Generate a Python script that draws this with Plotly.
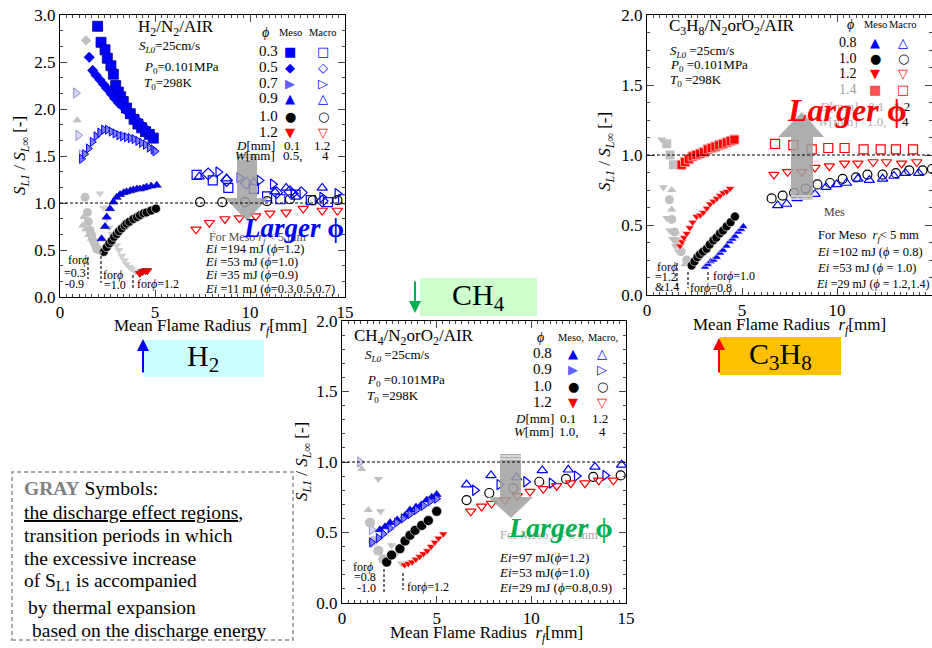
import plotly.graph_objects as go

SERIF = "Liberation Serif"
SANS = "DejaVu Sans"
W, H = 932, 648

# ================= H2 panel data =================
h2_meso_03_r = [1.98, 2.16, 2.37, 2.49, 2.68, 2.81, 2.93, 3.07, 3.19, 3.33, 3.5, 3.7, 3.9, 4.1, 4.3, 4.5, 4.7, 4.91]
h2_meso_03_s = [2.88, 2.71, 2.63, 2.54, 2.46, 2.37, 2.25, 2.18, 2.13, 2.08, 2.01, 1.95, 1.89, 1.84, 1.80, 1.76, 1.73, 1.69]
h2_meso_05_r = [1.54, 1.72, 1.9, 2.1, 2.3, 2.46, 2.7, 2.89, 3.1, 3.33, 3.55, 3.77, 4.0, 4.21, 4.45, 4.65, 4.85]
h2_meso_05_s = [2.55, 2.41, 2.36, 2.31, 2.26, 2.22, 2.16, 2.11, 2.06, 2.02, 1.97, 1.93, 1.89, 1.85, 1.80, 1.76, 1.72]
h2_meso_07_r = [1.14, 1.3, 1.5, 1.7, 1.9, 2.1, 2.3, 2.5, 2.7, 2.9, 3.1, 3.3, 3.5, 3.7, 3.9, 4.1, 4.3, 4.5, 4.7, 4.9, 5.0]
h2_meso_07_s = [1.47, 1.52, 1.58, 1.65, 1.71, 1.75, 1.78, 1.78, 1.76, 1.74, 1.72, 1.71, 1.70, 1.69, 1.68, 1.66, 1.64, 1.62, 1.59, 1.57, 1.55]
h2_meso_09_r = [2.19, 2.37, 2.46, 2.63, 2.81, 2.98, 3.16, 3.35, 3.5, 3.7, 3.86, 4.05, 4.21, 4.4, 4.56, 4.8, 5.09]
h2_meso_09_s = [0.62, 0.75, 0.85, 0.94, 1.01, 1.06, 1.09, 1.11, 1.12, 1.13, 1.14, 1.15, 1.15, 1.16, 1.17, 1.18, 1.19]
h2_meso_10_r = [2.3, 2.46, 2.6, 2.72, 2.85, 2.98, 3.1, 3.25, 3.4, 3.5, 3.65, 3.86, 4.05, 4.21, 4.4, 4.56, 4.8, 5.05]
h2_meso_10_s = [0.48, 0.53, 0.57, 0.60, 0.64, 0.67, 0.70, 0.73, 0.76, 0.78, 0.80, 0.83, 0.85, 0.87, 0.89, 0.90, 0.92, 0.94]
h2_meso_12_r = [4.2, 4.35, 4.5, 4.6]
h2_meso_12_s = [0.25, 0.27, 0.28, 0.28]

h2_gray_circ_r = [1.32, 1.44, 1.49, 1.58, 1.66, 1.75, 1.84, 1.93, 2.07]
h2_gray_circ_s = [1.06, 0.90, 0.80, 0.71, 0.66, 0.60, 0.56, 0.51, 0.50]
h2_gray_tup_r = [0.91, 1.19, 1.25, 1.35, 1.5, 1.65]
h2_gray_tup_s = [1.88, 0.76, 0.85, 0.72, 0.66, 0.62]
h2_gray_tdn_r = [1.75, 2.1, 2.3, 2.46, 2.6, 2.72, 2.85, 2.98, 3.1, 3.25, 3.4, 3.5, 3.65, 3.77, 3.95]
h2_gray_tdn_s = [2.36, 1.10, 0.95, 0.83, 0.74, 0.67, 0.61, 0.55, 0.50, 0.44, 0.39, 0.35, 0.32, 0.30, 0.27]
h2_gray_diam_r = [1.37]
h2_gray_diam_s = [2.73]
h2_gray_tri_r = [0.84, 0.96, 1.14]
h2_gray_tri_s = [2.17, 1.72, 1.51]

h2_macro_03_r = [7.19, 8.04, 8.86, 10.2, 10.9, 11.6, 12.4, 13.2, 14.1, 14.9]
h2_macro_03_s = [1.30, 1.24, 1.16, 1.15, 1.07, 1.04, 1.09, 1.03, 1.01, 1.04]
h2_macro_05_r = [7.8, 8.77, 9.8, 11.4, 12.1, 12.7, 13.8]
h2_macro_05_s = [1.31, 1.24, 1.21, 1.11, 1.12, 1.11, 1.02]
h2_macro_07_r = [8.33, 9.44, 10.5, 11.2, 12.3, 13.8, 14.6]
h2_macro_07_s = [1.33, 1.27, 1.24, 1.20, 1.10, 1.06, 1.10]
h2_macro_09_r = [7.33, 8.77, 10.2, 11.3, 11.9, 13.8]
h2_macro_09_s = [1.28, 1.26, 1.22, 1.12, 1.16, 1.16]
h2_macro_10_r = [7.37, 8.54, 9.74, 10.9, 12.1, 13.3, 14.6]
h2_macro_10_s = [1.01, 1.01, 1.01, 1.02, 1.04, 1.03, 1.03]
h2_macro_12_r = [7.16, 7.86, 8.68, 9.44, 10.3, 11.05, 11.9, 12.8, 13.8, 14.6]
h2_macro_12_s = [0.72, 0.79, 0.83, 0.84, 0.86, 0.89, 0.90, 0.94, 0.92, 0.92]

# ================= C3H8 panel data =================
c3_meso_14_r = [1.82, 2.0, 2.2, 2.4, 2.6, 2.8, 3.0, 3.2, 3.4, 3.6, 3.8, 4.0, 4.2, 4.4, 4.6]
c3_meso_14_s = [0.93, 0.95, 0.97, 0.99, 1.0, 1.01, 1.02, 1.04, 1.05, 1.06, 1.07, 1.08, 1.09, 1.10, 1.11]
c3_meso_12_r = [1.74, 1.85, 1.95, 2.09, 2.25, 2.4, 2.61, 2.8, 2.96, 3.15, 3.32, 3.5, 3.67, 3.85, 4.02, 4.2, 4.37]
c3_meso_12_s = [0.35, 0.38, 0.41, 0.44, 0.48, 0.52, 0.56, 0.57, 0.59, 0.62, 0.65, 0.67, 0.69, 0.71, 0.73, 0.74, 0.76]
c3_meso_10_r = [2.35, 2.5, 2.65, 2.79, 2.95, 3.14, 3.3, 3.49, 3.65, 3.84, 4.0, 4.19, 4.4, 4.63]
c3_meso_10_s = [0.21, 0.24, 0.27, 0.29, 0.31, 0.33, 0.36, 0.39, 0.41, 0.44, 0.46, 0.49, 0.52, 0.56]
c3_meso_08_r = [3.05, 3.2, 3.35, 3.5, 3.67, 3.85, 4.0, 4.19, 4.35, 4.5, 4.63, 4.8, 4.95, 5.07]
c3_meso_08_s = [0.20, 0.22, 0.24, 0.25, 0.27, 0.30, 0.32, 0.35, 0.38, 0.40, 0.42, 0.45, 0.47, 0.49]

c3_gray_sq_r = [1.04, 1.21, 1.39]
c3_gray_sq_s = [1.08, 1.0, 0.93]
c3_gray_tdn_r = [0.77, 0.86, 1.04, 1.2, 1.35, 1.5, 1.65]
c3_gray_tdn_s = [1.11, 0.77, 0.55, 0.46, 0.40, 0.35, 0.31]
c3_gray_tup_r = [1.3, 1.3, 1.5, 1.75, 2.0]
c3_gray_tup_s = [0.75, 0.61, 0.45, 0.32, 0.22]
c3_gray_circ_r = [1.18, 1.3, 1.45, 1.6, 1.8, 2.09]
c3_gray_circ_s = [0.68, 0.54, 0.45, 0.38, 0.31, 0.25]

c3_macro_14_r = [6.74, 7.7, 8.67, 9.54, 10.4, 11.4, 12.3, 13.1, 14.0]
c3_macro_14_s = [1.08, 1.07, 1.04, 1.05, 1.05, 1.04, 1.04, 1.04, 1.04]
c3_macro_12_r = [6.68, 7.4, 8.14, 8.84, 9.6, 10.4, 11.1, 11.9, 12.6, 13.4, 14.2]
c3_macro_12_s = [0.86, 0.88, 0.88, 0.91, 0.92, 0.94, 0.94, 0.95, 0.95, 0.94, 0.95]
c3_macro_10_r = [6.56, 7.14, 7.74, 8.35, 8.97, 9.63, 10.3, 11.0, 11.6, 12.4, 13.1, 13.8, 14.5, 15.0]
c3_macro_10_s = [0.69, 0.71, 0.73, 0.76, 0.79, 0.80, 0.83, 0.84, 0.86, 0.86, 0.87, 0.89, 0.89, 0.90]
c3_macro_08_r = [6.88, 7.35, 7.9, 8.3, 8.84, 9.42, 9.98, 10.5, 11.1, 11.7, 12.4, 13.0, 13.6, 14.3]
c3_macro_08_s = [0.64, 0.65, 0.69, 0.70, 0.72, 0.77, 0.79, 0.80, 0.83, 0.82, 0.83, 0.85, 0.87, 0.87]

# ================= CH4 panel data =================
ch4_meso_08_r = [2.0, 2.27, 2.54, 2.92, 3.33, 3.59, 3.91, 4.15, 4.47, 4.74, 5.0]
ch4_meso_08_s = [0.52, 0.54, 0.57, 0.59, 0.62, 0.66, 0.68, 0.69, 0.73, 0.75, 0.77]
ch4_meso_09_r = [1.57, 1.92, 2.18, 2.54, 2.89, 3.24, 3.59, 3.94, 4.3, 4.65, 5.0]
ch4_meso_09_s = [0.43, 0.46, 0.49, 0.53, 0.57, 0.60, 0.63, 0.66, 0.69, 0.72, 0.74]
ch4_meso_10_r = [2.36, 2.62, 3.06, 3.33, 3.59, 3.86, 4.21, 4.56, 5.0]
ch4_meso_10_s = [0.29, 0.34, 0.385, 0.44, 0.48, 0.515, 0.55, 0.585, 0.65]
ch4_meso_12_r = [3.3, 3.5, 3.7, 3.9, 4.1, 4.3, 4.5, 4.7, 4.9, 5.1, 5.35]
ch4_meso_12_s = [0.27, 0.28, 0.29, 0.31, 0.33, 0.35, 0.37, 0.40, 0.43, 0.46, 0.49]

ch4_gray_tri_r = [0.95, 1.57, 1.65]
ch4_gray_tri_s = [1.0, 0.52, 0.43]
ch4_gray_tup_r = [1.04, 1.39]
ch4_gray_tup_s = [0.95, 0.66]
ch4_gray_tdn_r = [1.92, 2.04, 2.62, 2.85, 3.15]
ch4_gray_tdn_s = [0.88, 0.65, 0.41, 0.345, 0.28]
ch4_gray_circ_r = [1.48, 1.65, 1.92, 2.18]
ch4_gray_circ_s = [0.57, 0.44, 0.37, 0.31]

ch4_macro_08_r = [6.58, 7.87, 9.22, 10.58, 11.95, 13.36, 14.77]
ch4_macro_08_s = [0.84, 0.905, 0.89, 0.94, 0.945, 0.965, 0.98]
ch4_macro_09_r = [7.02, 8.31, 9.72, 11.07, 12.4, 13.9]
ch4_macro_09_s = [0.80, 0.84, 0.86, 0.85, 0.90, 0.905]
ch4_macro_10_r = [6.58, 7.78, 9.05, 10.42, 11.83, 13.27, 14.72]
ch4_macro_10_s = [0.73, 0.78, 0.815, 0.86, 0.88, 0.895, 0.905]
ch4_macro_12_r = [6.8, 7.37, 7.9, 8.61, 9.26, 9.93, 10.63, 11.34, 12.08, 12.83, 13.56, 14.33]
ch4_macro_12_s = [0.65, 0.685, 0.705, 0.73, 0.76, 0.79, 0.81, 0.83, 0.85, 0.85, 0.87, 0.87]

# legend labels
h2_phi_labels = ["0.3", "0.5", "0.7", "0.9", "1.0", "1.2"]
c3_phi_labels = ["0.8", "1.0", "1.2", "1.4"]
ch4_phi_labels = ["0.8", "0.9", "1.0", "1.2"]
x_ticks = [0, 5, 10, 15]

# ----------------------------------------------------------------
def px(x):
    return x / W


def py(y):
    return 1 - y / H


BLUE = "#0000FF"
RED = "#FF0000"
BLACK = "#000000"
GRAY = "#C0C0C0"

fig = go.Figure()


def add(ax, r, s, symbol, size, fill, line="rgba(0,0,0,0)", lw=0):
    fig.add_trace(go.Scatter(
        x=r, y=s, mode="markers", xaxis="x" + ax, yaxis="y" + ax,
        showlegend=False, hoverinfo="skip",
        marker=dict(symbol=symbol, size=size, color=fill,
                    line=dict(color=line, width=lw))))


# H2 (axis "")
a = ""
add(a, h2_gray_circ_r, h2_gray_circ_s, "circle", 9, GRAY)
add(a, h2_gray_tup_r, h2_gray_tup_s, "triangle-up", 8, GRAY)
add(a, h2_gray_tdn_r, h2_gray_tdn_s, "triangle-down", 8, "#D0D0D0")
add(a, h2_gray_diam_r, h2_gray_diam_s, "diamond", 8, GRAY)
add(a, h2_gray_tri_r, h2_gray_tri_s, "triangle-right", 9, "#D8D8F4", "#9090D0", 1)
add(a, h2_meso_03_r, h2_meso_03_s, "square", 10, BLUE, "#000099", 0.8)
add(a, h2_meso_05_r, h2_meso_05_s, "diamond", 8, BLUE, "#000099", 0.6)
add(a, h2_meso_07_r, h2_meso_07_s, "triangle-right", 8, "#8080FF", BLUE, 1)
add(a, h2_meso_09_r, h2_meso_09_s, "triangle-up", 8, BLUE, "#000099", 0.6)
add(a, h2_meso_10_r, h2_meso_10_s, "circle", 9, BLACK, "#FFFFFF", 0.6)
add(a, h2_meso_12_r, h2_meso_12_s, "triangle-down", 8, RED, "#800000", 0.6)
add(a, h2_macro_03_r, h2_macro_03_s, "square-open", 9, BLUE, BLUE, 1.2)
add(a, h2_macro_05_r, h2_macro_05_s, "diamond-open", 9, BLUE, BLUE, 1.2)
add(a, h2_macro_07_r, h2_macro_07_s, "triangle-right-open", 9, BLUE, BLUE, 1.2)
add(a, h2_macro_09_r, h2_macro_09_s, "triangle-up-open", 9, BLUE, BLUE, 1.2)
add(a, h2_macro_10_r, h2_macro_10_s, "circle-open", 9, BLACK, BLACK, 1.2)
add(a, h2_macro_12_r, h2_macro_12_s, "triangle-down-open", 9, RED, RED, 1.2)

# C3H8 (axis "2")
a = "2"
add(a, c3_gray_sq_r, c3_gray_sq_s, "square", 9, GRAY)
add(a, c3_gray_tdn_r, c3_gray_tdn_s, "triangle-down", 8, GRAY)
add(a, c3_gray_tup_r, c3_gray_tup_s, "triangle-up", 8, GRAY)
add(a, c3_gray_circ_r, c3_gray_circ_s, "circle", 9, GRAY)
add(a, c3_meso_14_r, c3_meso_14_s, "square", 9, RED, "#FF9999", 1)
add(a, c3_meso_12_r, c3_meso_12_s, "triangle-down", 8, RED, "#FFFFFF", 0.6)
add(a, c3_meso_10_r, c3_meso_10_s, "circle", 9, BLACK, "#FFFFFF", 0.6)
add(a, c3_meso_08_r, c3_meso_08_s, "triangle-up", 8, BLUE, "#FFFFFF", 0.6)
add(a, c3_macro_14_r, c3_macro_14_s, "square-open", 9, RED, RED, 1.2)
add(a, c3_macro_12_r, c3_macro_12_s, "triangle-down-open", 9, RED, RED, 1.2)
add(a, c3_macro_10_r, c3_macro_10_s, "circle-open", 9, BLACK, BLACK, 1.2)
add(a, c3_macro_08_r, c3_macro_08_s, "triangle-up-open", 9, BLUE, BLUE, 1.2)

# CH4 (axis "3")
a = "3"
add(a, ch4_gray_tri_r, ch4_gray_tri_s, "triangle-right", 9, "#D8D8F4", "#9090D0", 1)
add(a, ch4_gray_tup_r, ch4_gray_tup_s, "triangle-up", 8, GRAY)
add(a, ch4_gray_tdn_r, ch4_gray_tdn_s, "triangle-down", 8, GRAY)
add(a, ch4_gray_circ_r, ch4_gray_circ_s, "circle", 10, GRAY)
add(a, ch4_meso_08_r, ch4_meso_08_s, "triangle-up", 8, BLUE, "#000099", 0.6)
add(a, ch4_meso_09_r, ch4_meso_09_s, "triangle-right", 8, "#8080FF", BLUE, 1)
add(a, ch4_meso_10_r, ch4_meso_10_s, "circle", 10, BLACK, "#FFFFFF", 0.6)
add(a, ch4_meso_12_r, ch4_meso_12_s, "triangle-down", 8, RED, "#FFFFFF", 0.6)
add(a, ch4_macro_08_r, ch4_macro_08_s, "triangle-up-open", 9, BLUE, BLUE, 1.2)
add(a, ch4_macro_09_r, ch4_macro_09_s, "triangle-right-open", 9, BLUE, BLUE, 1.2)
add(a, ch4_macro_10_r, ch4_macro_10_s, "circle-open", 9, BLACK, BLACK, 1.2)
add(a, ch4_macro_12_r, ch4_macro_12_s, "triangle-down-open", 9, RED, RED, 1.2)


def xax(x0, x1, anchor):
    return dict(domain=[px(x0), px(x1)], anchor=anchor, range=[0, 15], automargin=False,
                tickvals=x_ticks, ticks="inside", ticklen=7, mirror="allticks",
                showline=True, linecolor="black", linewidth=1, showgrid=False,
                zeroline=False, tickfont=dict(family=SERIF, size=17, color="black"),
                minor=dict(ticks="inside", ticklen=3, dtick=1 / 3, tick0=0, showgrid=False))


def yax(y0, y1, anchor, top, minor):
    return dict(domain=[py(y1), py(y0)], anchor=anchor, range=[0, top], dtick=0.5,
                automargin=False,
                tickformat=".1f", ticks="inside", ticklen=7, mirror="allticks",
                showline=True, linecolor="black", linewidth=1, showgrid=False,
                zeroline=False, tickfont=dict(family=SERIF, size=17, color="black"),
                minor=dict(ticks="inside", ticklen=3, dtick=minor, tick0=0, showgrid=False))


ann = []


def txt(x, y, s, size=13, color="black", xanchor="left", family=SERIF, angle=0):
    ann.append(dict(x=px(x), y=py(y), xref="paper", yref="paper", text=s,
                    showarrow=False, xanchor=xanchor, yanchor="middle", textangle=angle,
                    font=dict(family=family, size=size, color=color)))


def glyph(x, y, g, color, size=13):
    txt(x, y, g, size=size, color=color, xanchor="center", family=SANS)


YT = "<i>S</i><sub><i>L1</i></sub> / <i>S</i><sub><i>L∞</i></sub> [-]"
XT = "Mean Flame Radius  <i>r</i><sub><i>f</i></sub>[mm]"
PHI = "<i>ϕ</i>"

# ---- axis titles
txt(21, 156, YT, 17, xanchor="center", angle=-90)
txt(606, 152, YT, 17, xanchor="center", angle=-90)
txt(303, 462, YT, 17, xanchor="center", angle=-90)
txt(210, 327, XT, 17, xanchor="center")
txt(789, 326, XT, 17, xanchor="center")
txt(487, 634, XT, 17, xanchor="center")

# ---- H2 panel texts
txt(136, 28, "H<sub>2</sub>/N<sub>2</sub>/AIR", 17)
txt(137, 47, "<i>S<sub>L0</sub></i>=25cm/s", 13)
txt(142, 67, "<i>P</i><sub>0</sub>=0.101MPa", 13)
txt(142, 83, "<i>T</i><sub>0</sub>=298K", 13)
txt(265, 32, PHI, 14, xanchor="center")
txt(290, 32, "Meso", 10.5, xanchor="center")
txt(322, 32, "Macro", 10.5, xanchor="center")
h2_rows_y = [51, 67, 83, 98, 116, 132]
h2_meso_g = [("■", BLUE), ("◆", BLUE), ("▶", "#6060FF"), ("▲", BLUE), ("●", BLACK), ("▼", RED)]
h2_macro_g = [("□", BLUE), ("◇", BLUE), ("▷", BLUE), ("△", BLUE), ("○", BLACK), ("▽", RED)]
for lab, yy, mg, og in zip(h2_phi_labels, h2_rows_y, h2_meso_g, h2_macro_g):
    txt(268, yy, lab, 15, xanchor="center")
    glyph(290, yy, mg[0], mg[1])
    glyph(323, yy, og[0], og[1])
txt(277, 145, "<i>D</i>[mm]", 13, xanchor="right")
txt(292, 145, "0.1", 13, xanchor="center")
txt(322, 145, "1.2", 13, xanchor="center")
txt(277, 156, "<i>W</i>[mm]", 13, xanchor="right")
txt(293, 156, "0.5,", 13, xanchor="center")
txt(325, 156, "4", 13, xanchor="center")
txt(207, 238, "For Meso <i>r<sub>f</sub></i> < 5 mm", 12, color="#505050")
txt(203, 249, "<i>Ei</i> =194 mJ (<i>ϕ</i>=1.2)", 12.5)
txt(203, 262, "<i>Ei</i> =53 mJ (<i>ϕ</i>=1.0)", 12.5)
txt(203, 275, "<i>Ei</i> =35 mJ (<i>ϕ</i>=0.9)", 12.5)
txt(203, 289, "<i>Ei</i> =11 mJ (<i>ϕ</i>=0.3,0.5,0.7)", 12.5)
txt(66, 260, "for<i>ϕ</i>", 12)
txt(62, 273, "=0.3", 12)
txt(63, 284, "-0.9", 12)
txt(101, 275, "for<i>ϕ</i>", 12)
txt(102, 285, "=1.0", 12)
txt(135, 284, "for<i>ϕ</i>=1.2", 12)
txt(293, 228, "<b><i>Larger</i> ϕ</b>", 27, color=BLUE, xanchor="center")

# ---- C3H8 panel texts
txt(667, 27, "C<sub>3</sub>H<sub>8</sub>/N<sub>2</sub>orO<sub>2</sub>/AIR", 17)
txt(668, 51, "<i>S<sub>L0</sub></i> =25cm/s", 13)
txt(668, 65, "<i>P</i><sub>0</sub> =0.101MPa", 13)
txt(668, 80, "<i>T</i><sub>0</sub> =298K", 13)
txt(850, 25, PHI, 14, xanchor="center")
txt(875, 25, "Meso", 10.5, xanchor="center")
txt(902, 25, "Macro", 10.5, xanchor="center")
c3_rows_y = [43, 59, 74, 89]
c3_meso_g = [("▲", BLUE), ("●", BLACK), ("▼", RED), ("■", "#FF5050")]
c3_macro_g = [("△", BLUE), ("○", BLACK), ("▽", RED), ("□", RED)]
for i, (lab, yy, mg, og) in enumerate(zip(c3_phi_labels, c3_rows_y, c3_meso_g, c3_macro_g)):
    txt(848, yy, lab, 14, xanchor="center", color="#A0A0A0" if i == 3 else "black")
    glyph(875, yy, mg[0], mg[1])
    glyph(903, yy, og[0], og[1])
txt(860, 107, "<i>D</i>[mm]", 13, xanchor="right", color="#B0B0B0")
txt(876, 107, "0.1", 13, xanchor="center", color="#B0B0B0")
txt(902, 107, "1.2", 13, xanchor="center")
txt(860, 122, "<i>W</i>[mm]", 13, xanchor="right", color="#B0B0B0")
txt(877, 122, "1.0,", 13, xanchor="center", color="#B0B0B0")
txt(905, 122, "4", 13, xanchor="center")
txt(822, 212, "Mes", 12, color="#404040")
txt(816, 236, "For Meso  <i>r<sub>f</sub></i>< 5 mm", 12.5)
txt(815, 252, "<i>Ei</i> =102 mJ (<i>ϕ</i> = 0.8)", 12.5)
txt(815, 268, "<i>Ei</i> =53 mJ (<i>ϕ</i> = 1.0)", 12.5)
txt(814, 284, "<i>Ei</i> =29 mJ (<i>ϕ</i> = 1.2,1.4)", 12)
txt(655, 267, "for<i>ϕ</i>", 12)
txt(653, 277, "=1.2", 12)
txt(653, 287, "&1.4", 12)
txt(711, 276, "for<i>ϕ</i>=1.0", 12)
txt(688, 288, "for<i>ϕ</i>=0.8", 12)

# ---- CH4 panel texts
txt(352, 337, "CH<sub>4</sub>/N<sub>2</sub>orO<sub>2</sub>/AIR", 17)
txt(363, 355, "<i>S<sub>L0</sub></i> =25cm/s", 13)
txt(365, 381, "<i>P</i><sub>0</sub> =0.101MPa", 13)
txt(365, 397, "<i>T</i><sub>0</sub> =298K", 13)
txt(540, 337, PHI, 14, xanchor="center")
txt(571, 337, "Meso,", 10.5, xanchor="center")
txt(603, 337, "Macro,", 10.5, xanchor="center")
ch4_rows_y = [353, 369, 386, 402]
ch4_meso_g = [("▲", BLUE), ("▶", "#6060FF"), ("●", BLACK), ("▼", RED)]
ch4_macro_g = [("△", BLUE), ("▷", BLUE), ("○", BLACK), ("▽", RED)]
for lab, yy, mg, og in zip(ch4_phi_labels, ch4_rows_y, ch4_meso_g, ch4_macro_g):
    txt(542, yy, lab, 15, xanchor="center")
    glyph(573, yy, mg[0], mg[1])
    glyph(602, yy, og[0], og[1])
txt(556, 418, "<i>D</i>[mm]", 13, xanchor="right")
txt(568, 418, "0.1", 13, xanchor="center")
txt(600, 418, "1.2", 13, xanchor="center")
txt(556, 431, "<i>W</i>[mm]", 13, xanchor="right")
txt(569, 431, "1.0,", 13, xanchor="center")
txt(602, 431, "4", 13, xanchor="center")
txt(498, 536, "For Meso <i>r<sub>f</sub></i>< 5 mm", 12.5, color="#A8A8A8")
txt(497, 557, "<i>Ei</i>=97 mJ(<i>ϕ</i>=1.2)", 13)
txt(497, 572, "<i>Ei</i>=53 mJ(<i>ϕ</i>=1.0)", 13)
txt(497, 587, "<i>Ei</i>=29 mJ (<i>ϕ</i>=0.8,0.9)", 13)
txt(351, 567, "for<i>ϕ</i>", 12)
txt(352, 577, "=0.8", 12)
txt(355, 588, "-1.0", 12)
txt(405, 587, "for<i>ϕ</i>=1.2", 12)

# ---- colored labels
txt(203, 358, "H<sub>2</sub>", 30, xanchor="center")
txt(478, 297, "CH<sub>4</sub>", 30, xanchor="center")
txt(780, 356, "C<sub>3</sub>H<sub>8</sub>", 30, xanchor="center")

# ---- gray box text
gx = 22
GS = 19.5
txt(gx, 488, "<span style='color:#808080'><b>GRAY</b></span> Symbols:", GS)
txt(gx, 512, "<u>the discharge effect regions</u>,", GS)
txt(gx, 535, "transition periods in which", GS)
txt(gx, 558, "the excessive increase", GS)
txt(gx, 582, "of S<sub>L1</sub> is accompanied", GS)
txt(gx + 4, 607, "by thermal expansion", GS)
txt(gx + 8, 630, "based on the discharge energy", GS)

# colored arrows
for (xa, y_tip, y_tail, col) in [(143, 339, 374, BLUE), (719, 338, 374, RED), (415, 313, 280, "#00B050")]:
    ann.append(dict(x=px(xa), y=py(y_tip), xref="paper", yref="paper", ax=0,
                    ay=y_tail - y_tip, axref="pixel", ayref="pixel", text="", showarrow=True,
                    arrowhead=2, arrowsize=1.2, arrowwidth=2, arrowcolor=col))

# big "Larger" on top
txt(847, 110, "<b><i>Larger</i> ϕ</b>", 32, color=RED, xanchor="center")
txt(560, 527, "<b><i>Larger</i> ϕ</b>", 28, color="#00B050", xanchor="center")

shapes = []


def poly(pts, color, opacity=0.85):
    p = "M " + " L ".join(f"{px(x):.5f},{py(y):.5f}" for x, y in pts) + " Z"
    shapes.append(dict(type="path", path=p, xref="paper", yref="paper",
                       fillcolor=color, line=dict(width=0), opacity=opacity, layer="above"))


def pline(x0, y0, x1, y1, color, width=1, dash="solid"):
    shapes.append(dict(type="line", xref="paper", yref="paper", x0=px(x0), y0=py(y0),
                       x1=px(x1), y1=py(y1), line=dict(color=color, width=width, dash=dash),
                       layer="above"))


# colored rectangles (behind)
for (x0, y0, x1, y1, col) in [(144, 340, 264, 377, "#CCFFFF"), (420, 278, 537, 316, "#CCFFCC"),
                              (720, 337, 841, 375, "#FFC000")]:
    shapes.append(dict(type="rect", xref="paper", yref="paper", x0=px(x0), x1=px(x1),
                       y0=py(y1), y1=py(y0), fillcolor=col, line=dict(width=0), layer="below"))

# gray block arrows
poly([(237, 154), (257, 154), (257, 198), (268, 198), (247, 221), (225, 198), (237, 198)], "#A0A0A0")
poly([(791, 200), (813, 200), (813, 137), (824, 137), (802, 112), (778, 137), (791, 137)], "#A0A0A0")
poly([(500, 454), (521, 454), (521, 497), (533, 497), (511, 518), (488, 497), (500, 497)], "#A0A0A0")
for yy in (156, 159):
    pline(237, yy, 257, yy, "white", 1)
for yy in (196, 199):
    pline(791, yy, 813, yy, "white", 1)
for yy in (456, 459):
    pline(500, yy, 521, yy, "white", 1)

# reference lines S=1
for ax in ("", "2", "3"):
    shapes.append(dict(type="line", xref="x" + ax, yref="y" + ax, x0=0, x1=15, y0=1, y1=1,
                       line=dict(color="black", width=1, dash="3px,2px"), layer="above"))

# gray dashed vertical markers
for (x, y0, y1) in [(88, 257, 279), (101, 251, 283), (133, 275, 288),
                    (677, 263, 289), (688, 272, 288), (708, 272, 281),
                    (384, 569, 592), (403, 573, 590)]:
    pline(x, y0, x, y1, "#707070", 2, "3px,2px")

# gray dashed box
shapes.append(dict(type="rect", xref="paper", yref="paper", x0=px(12), x1=px(293),
                   y0=py(640), y1=py(472), line=dict(color="#909090", width=1.5, dash="4px,3px"),
                   fillcolor="rgba(0,0,0,0)", layer="above"))

fig.update_layout(
    width=W, height=H, margin=dict(l=0, r=0, t=0, b=0, pad=0, autoexpand=False),
    paper_bgcolor="white", plot_bgcolor="white", showlegend=False,
    xaxis=xax(60, 345, "y"), yaxis=yax(15, 297, "x", 3, 1 / 6),
    xaxis2=xax(647, 932, "y2"), yaxis2=yax(15, 295, "x2", 2, 0.125),
    xaxis3=xax(342, 626, "y3"), yaxis3=yax(321, 603, "x3", 2, 0.1),
    annotations=ann, shapes=shapes,
)

fig.write_html("out.html", config={"displayModeBar": False},
               post_script="document.body.style.margin='0px';document.body.style.overflow='hidden';")
